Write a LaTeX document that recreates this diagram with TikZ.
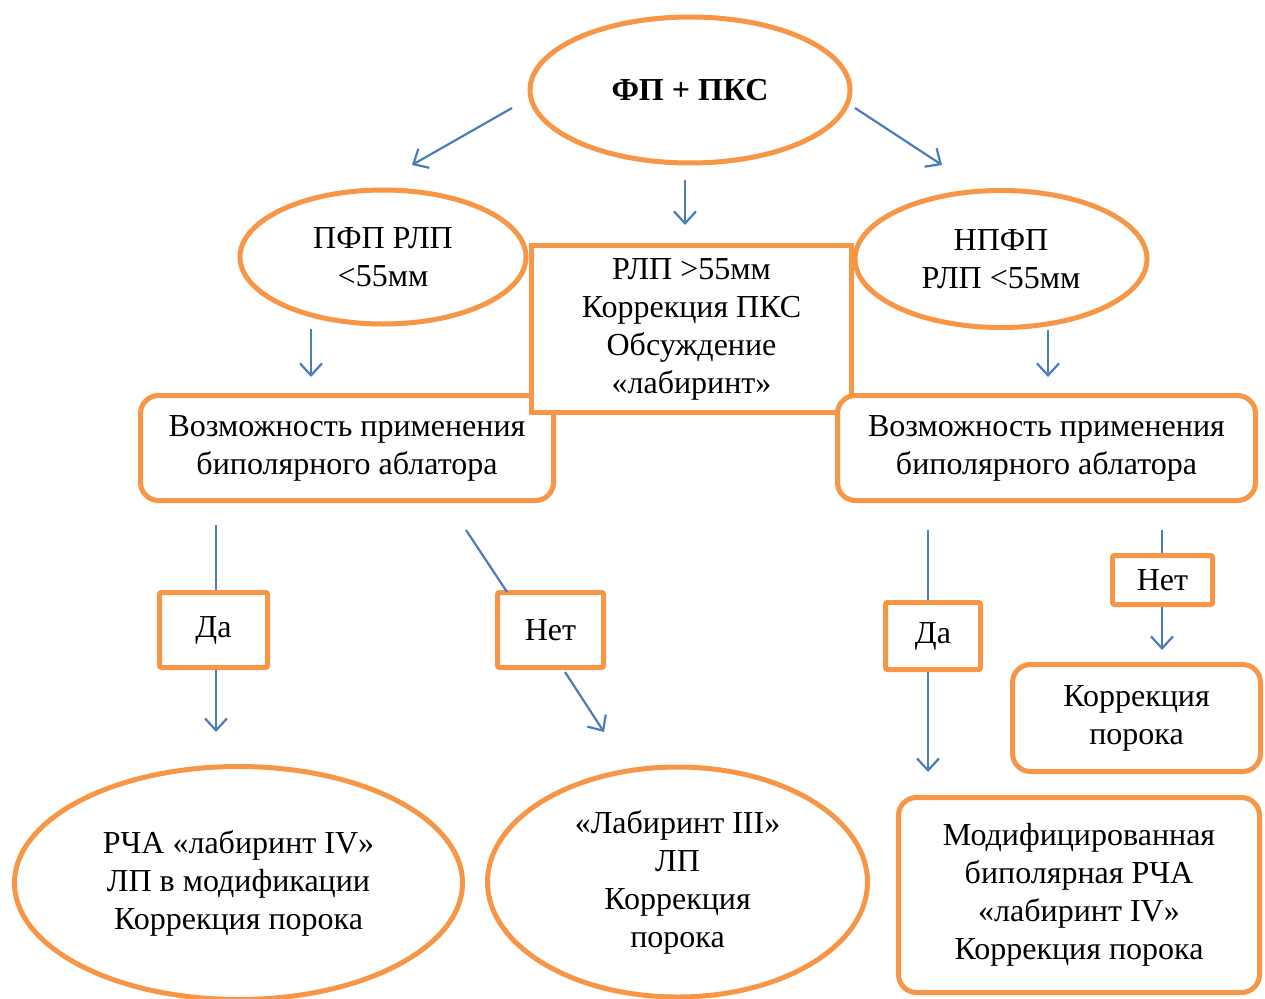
\documentclass[tikz,border=0pt]{standalone}
\usepackage{fontspec}
\setmainfont{Liberation Serif}
\usetikzlibrary{shapes.geometric,arrows.meta}
\definecolor{ora}{HTML}{F79646}
\definecolor{blu}{HTML}{4A7EBB}
\tikzset{
 ell/.style={ellipse,draw=ora,line width=5pt,fill=white,align=center,inner sep=0pt,font=\fontsize{32}{38}\selectfont},
 rbox/.style={rectangle,rounded corners=18pt,draw=ora,line width=5pt,fill=white,align=center,inner sep=0pt,font=\fontsize{32}{38}\selectfont},
 sbox/.style={rectangle,rounded corners=2pt,draw=ora,line width=5pt,fill=white,align=center,inner sep=0pt,font=\fontsize{32}{38}\selectfont},
 arr/.style={draw=blu,line width=2.2pt,-{Straight Barb[length=12pt,width=22pt]}},
 ln/.style={draw=blu,line width=2.2pt}
}
\begin{document}
\begin{tikzpicture}[x=1pt,y=-1pt]
\useasboundingbox[fill=white] (0,0) rectangle (1265,998);
% top ellipse
\node[ell,minimum width=320pt,minimum height=146pt] (top) at (690,90) {\textbf{ФП + ПКС}};
% second row ellipses
\node[ell,minimum width=286pt,minimum height=134pt] (pfp) at (383,257) {ПФП РЛП\\<55мм};
\node[ell,minimum width=292pt,minimum height=137pt] (npfp) at (1001,259) {НПФП\\РЛП <55мм};
% left box
\node[rbox,minimum width=413pt,minimum height=105pt] (boxL) at (347,448) {Возможность применения\\биполярного аблатора};
% center rectangle
\node[sbox,rounded corners=0pt,minimum width=320pt,minimum height=167pt] (mid) at (691.5,329) {РЛП >55мм\\Коррекция ПКС\\Обсуждение\\«лабиринт»};
% right box
\node[rbox,minimum width=418pt,minimum height=105pt] (boxR) at (1046.5,448) {Возможность применения\\биполярного аблатора};
% decision boxes
\node[sbox,minimum width=108pt,minimum height=75pt] (daL) at (213.5,630) {Да};
\node[sbox,minimum width=106pt,minimum height=75pt] (netL) at (550.5,630) {Нет};
\node[sbox,minimum width=95pt,minimum height=67pt] (daR) at (933,636) {Да};
\node[sbox,minimum width=100pt,minimum height=49pt] (netR) at (1162.5,580) {Нет};
% results
\node[rbox,minimum width=248pt,minimum height=107pt] (korR) at (1136.5,718) {Коррекция\\порока};
\node[ell,minimum width=448pt,minimum height=233pt] (resL) at (238.5,883) {РЧА «лабиринт IV»\\ЛП в модификации\\Коррекция порока};
\node[ell,minimum width=380pt,minimum height=230pt] (resM) at (677.5,882) {«Лабиринт III»\\ЛП\\Коррекция\\порока};
\node[rbox,minimum width=361pt,minimum height=195pt] (resR) at (1079,895) {Модифицированная\\биполярная РЧА\\«лабиринт IV»\\Коррекция порока};
% free arrow ends
\coordinate (a1s) at (512,108); \coordinate (a1e) at (412,165);
\coordinate (a2s) at (685,180); \coordinate (a2e) at (685,225);
\coordinate (a3s) at (855,108); \coordinate (a3e) at (942,165);
\coordinate (a4s) at (311,329); \coordinate (a4e) at (311,377);
\coordinate (a5s) at (1048,330); \coordinate (a5e) at (1048,377);
\coordinate (b1s) at (216,525); \coordinate (b1e) at (216,732);
\coordinate (b2s) at (466,530); \coordinate (b2m) at (507,592);
\coordinate (b2n) at (565,672); \coordinate (b2e) at (604,732);
\coordinate (c1s) at (928,530); \coordinate (c1e) at (928,772);
\coordinate (c2s) at (1162,530); \coordinate (c2e) at (1162,650);
% connectors
\draw[arr] (a1s) -- (a1e);
\draw[arr] (a2s) -- (a2e);
\draw[arr] (a3s) -- (a3e);
\draw[arr] (a4s) -- (a4e);
\draw[arr] (a5s) -- (a5e);
\draw[ln] (b1s) -- (b1s |- daL.north);
\draw[arr] (b1e |- daL.south) -- (b1e);
\draw[ln] (b2s) -- (b2m);
\draw[arr] (b2n) -- (b2e);
\draw[ln] (c1s) -- (c1s |- daR.north);
\draw[arr] (c1e |- daR.south) -- (c1e);
\draw[ln] (c2s) -- (c2s |- netR.north);
\draw[arr] (c2e |- netR.south) -- (c2e);
\end{tikzpicture}
\end{document}
